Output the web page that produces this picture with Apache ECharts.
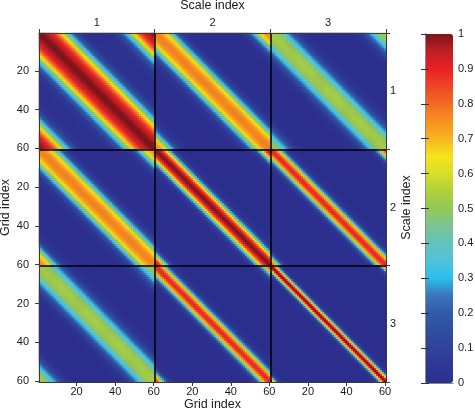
<!DOCTYPE html>
<html>
<head>
<meta charset="utf-8">
<script src="https://cdn.jsdelivr.net/npm/echarts@6/dist/echarts.min.js"></script>
<style>
  html, body { margin: 0; padding: 0; background: #fff; }
  #chart { width: 475px; height: 411px; }
</style>
</head>
<body>
<div id="chart"></div>
<script>
// ===== data =====
// band profile of each scale pair: value at grid distance d = 0,1,2,... from the diagonal
const profile11 = [1.00, 0.995, 0.985, 0.97, 0.955, 0.935, 0.91, 0.88, 0.84, 0.79, 0.735, 0.67, 0.60, 0.52, 0.44, 0.36,
                   0.29, 0.23, 0.18, 0.14, 0.10, 0.07, 0.05, 0.035, 0.025, 0.02, 0.015, 0.01, 0.01, 0.01, 0.01];
const profile12 = [0.77, 0.765, 0.755, 0.735, 0.705, 0.665, 0.61, 0.53, 0.44, 0.35, 0.27, 0.20, 0.14, 0.09, 0.06,
                   0.04, 0.025, 0.015, 0.01];
const profile13 = [0.53, 0.53, 0.52, 0.51, 0.49, 0.46, 0.42, 0.37, 0.32, 0.27, 0.22, 0.17, 0.13, 0.09, 0.06,
                   0.04, 0.025, 0.015, 0.01];
const profile22 = [1.00, 0.975, 0.935, 0.87, 0.77, 0.64, 0.49, 0.34, 0.21, 0.12, 0.06, 0.03, 0.015, 0.01];
const profile23 = [0.89, 0.87, 0.81, 0.70, 0.55, 0.39, 0.25, 0.14, 0.07, 0.035, 0.015, 0.01];
const profile33 = [1.00, 0.90, 0.68, 0.40, 0.18, 0.06, 0.02, 0.01];

const scaleLabels = ['1', '2', '3'];
const gridSize = 60;
const gridTicks = [20, 40, 60];
const colorTicks = [0, 0.1, 0.2, 0.3, 0.4, 0.5, 0.6, 0.7, 0.8, 0.9, 1];

// colour map, 0 -> 1
const colormap = ['#2d2f8e', '#2e3894', '#2f4399', '#2f4f9f', '#305ba7', '#3a74b9', '#29bfed', '#50c3dc',
                  '#63c2bd', '#7cc494', '#93c857', '#b1d03a', '#d6df27', '#f4e41c', '#f9b41e', '#f6921e',
                  '#f26a23', '#ee4525', '#ea1f25', '#c01f26', '#7c1416'];

// ===== build the 180x180 matrix from the band profiles =====
const profiles = { '1-1': profile11, '1-2': profile12, '1-3': profile13, '2-2': profile22, '2-3': profile23, '3-3': profile33 };
const n = scaleLabels.length * gridSize;
const cats = [];
for (let k = 1; k <= n; k++) cats.push(String(k));

const cells = [];
for (let r = 0; r < scaleLabels.length; r++) {
    for (let c = 0; c < scaleLabels.length; c++) {
        const key = Math.min(r, c) + 1 + '-' + (Math.max(r, c) + 1);
        const prof = profiles[key];
        for (let i = 0; i < gridSize; i++) {
            for (let j = 0; j < gridSize; j++) {
                const a = Math.abs(i - j);
                const d = Math.min(a, gridSize - a);
                const v = prof[d] !== undefined ? prof[d] : 0;
                cells.push([c * gridSize + j, r * gridSize + i, v]);
            }
        }
    }
}

// ===== layout =====
const FONT = 'Liberation Sans';
const TXT = '#1a1a1a';
const FRAME = '#3a3a3a';
const TICK_FS = 11;
const plot = { left: 39, top: 33, width: 347, height: 349 };
const bar = { left: 425, top: 34, width: 28, height: 349 };

const showGridTick = idx => gridTicks.includes(((idx) % gridSize) + 1);
const gridLabel = v => String(((Number(v) - 1) % gridSize) + 1);
const nameStyle = { fontSize: 12.5, color: TXT, fontFamily: FONT };

const chart = echarts.init(document.getElementById('chart'));
const option = {
    animation: false,
    backgroundColor: '#fff',
    textStyle: { fontFamily: FONT },
    grid: [
        // navy behind the cells hides the hairline seams between them
        { left: plot.left, top: plot.top, width: plot.width, height: plot.height, outerBoundsMode: 'none',
          containLabel: false, show: true, backgroundColor: colormap[0], borderWidth: 0 },
        { left: bar.left, top: bar.top, width: bar.width, height: bar.height, outerBoundsMode: 'none',
          containLabel: false }
    ],
    xAxis: [
        {
            gridIndex: 0, type: 'category', data: cats, position: 'bottom', z: 10,
            axisLine: { show: true, lineStyle: { color: FRAME, width: 1 } },
            axisTick: { show: true, alignWithLabel: true, interval: showGridTick, length: 4, lineStyle: { color: FRAME } },
            axisLabel: { interval: showGridTick, formatter: gridLabel, fontSize: TICK_FS, color: TXT, margin: 4, fontFamily: FONT },
            splitLine: { show: false },
            name: 'Grid index', nameLocation: 'middle', nameGap: 16, nameMoveOverlap: false,
            nameTextStyle: nameStyle
        },
        {
            gridIndex: 0, type: 'category', data: scaleLabels, position: 'top', z: 10,
            axisLine: { show: true, lineStyle: { color: FRAME, width: 1 } },
            axisTick: { show: true, length: 4, lineStyle: { color: FRAME } },
            axisLabel: { fontSize: TICK_FS, color: TXT, margin: 5, fontFamily: FONT },
            splitLine: { show: true, showMinLine: false, showMaxLine: false, lineStyle: { color: '#000', width: 1.5 } },
            name: 'Scale index', nameLocation: 'middle', nameGap: 21, nameMoveOverlap: false,
            nameTextStyle: nameStyle
        },
        {
            gridIndex: 1, type: 'value', min: 0, max: 1, position: 'bottom', z: 10,
            axisLine: { show: true, lineStyle: { color: '#888', width: 1 } },
            axisTick: { show: false }, axisLabel: { show: false }, splitLine: { show: false }
        },
        {
            gridIndex: 1, type: 'value', min: 0, max: 1, position: 'top', z: 10,
            axisLine: { show: true, lineStyle: { color: '#888', width: 1 } },
            axisTick: { show: false }, axisLabel: { show: false }, splitLine: { show: false }
        }
    ],
    yAxis: [
        {
            gridIndex: 0, type: 'category', data: cats, inverse: true, position: 'left', z: 10,
            axisLine: { show: true, lineStyle: { color: FRAME, width: 1 } },
            axisTick: { show: true, alignWithLabel: true, interval: showGridTick, length: 4, lineStyle: { color: FRAME } },
            axisLabel: { interval: showGridTick, formatter: gridLabel, fontSize: TICK_FS, color: TXT, margin: 10, fontFamily: FONT },
            splitLine: { show: false },
            name: 'Grid index', nameLocation: 'middle', nameGap: 27, nameMoveOverlap: false,
            nameTextStyle: nameStyle
        },
        {
            gridIndex: 0, type: 'category', data: scaleLabels, inverse: true, position: 'right', z: 10,
            axisLine: { show: true, lineStyle: { color: FRAME, width: 1 } },
            axisTick: { show: true, length: 4, lineStyle: { color: FRAME } },
            axisLabel: { fontSize: TICK_FS, color: TXT, margin: 4, fontFamily: FONT },
            splitLine: { show: true, showMinLine: false, showMaxLine: false, lineStyle: { color: '#000', width: 1.5 } },
            name: 'Scale index', nameLocation: 'middle', nameGap: 14, nameMoveOverlap: false,
            nameTextStyle: nameStyle
        },
        {
            gridIndex: 1, type: 'value', min: 0, max: 1, interval: 0.1, position: 'right', z: 10,
            axisLine: { show: true, lineStyle: { color: '#888', width: 1 } },
            axisTick: { show: true, inside: true, length: 4, lineStyle: { color: '#333' } },
            axisLabel: { fontSize: TICK_FS, color: TXT, margin: 5, fontFamily: FONT,
                formatter: v => colorTicks.includes(Math.round(v * 10) / 10) ? String(Math.round(v * 10) / 10) : '' },
            splitLine: { show: false }
        },
        {
            gridIndex: 1, type: 'value', min: 0, max: 1, interval: 0.1, position: 'left', z: 10,
            axisLine: { show: true, lineStyle: { color: '#888', width: 1 } },
            axisTick: { show: true, inside: true, length: 4, lineStyle: { color: '#333' } },
            axisLabel: { show: false }, splitLine: { show: false }
        }
    ],
    visualMap: {
        type: 'continuous', min: 0, max: 1, seriesIndex: 0, calculable: false, hoverLink: false,
        orient: 'vertical', left: bar.left, top: bar.top, itemWidth: bar.width, itemHeight: bar.height,
        padding: 0, text: null, showLabel: false,
        inRange: { color: colormap }
    },
    series: [{
        type: 'heatmap', xAxisIndex: 0, yAxisIndex: 0, data: cells,
        progressive: 0, itemStyle: { borderWidth: 0 }, emphasis: { disabled: true }
    }]
};
chart.setOption(option);
</script>
</body>
</html>
